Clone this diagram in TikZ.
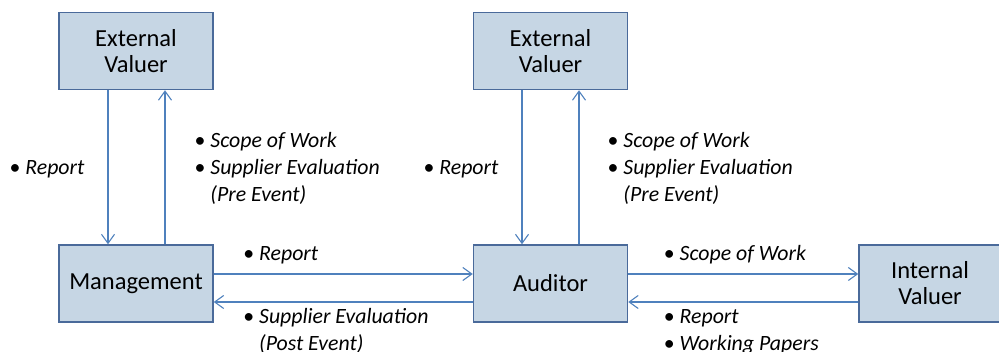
\documentclass[tikz,border=0pt]{standalone}
\usepackage{fontspec}
\setmainfont{Carlito}
\usetikzlibrary{arrows.meta,positioning}
\definecolor{vbfill}{HTML}{C6D6E4}
\definecolor{vbedge}{HTML}{4A6A9A}
\definecolor{vbline}{HTML}{4F81BD}
\newcommand{\pts}[1]{\begin{tabular}{@{}l@{\hspace{5pt}}l@{}}#1\end{tabular}}

\begin{document}
\begin{tikzpicture}[
    box/.style={draw=vbedge, fill=vbfill, line width=1.5pt, minimum width=154pt,
      minimum height=77pt, align=center, font=\fontsize{24.5}{26}\selectfont},
    flow/.style={draw=vbline, line width=1.1pt, -{Straight Barb[length=9pt, width=13pt]}},
    lbl/.style={inner sep=0pt, font=\fontsize{21.8}{27}\selectfont}]
  \useasboundingbox (0,0) rectangle (999pt,-352pt);

  % Boxes
  \node[box] (mgmt) at (136pt,-283.5pt) {Management};
  \node[box, above=154pt of mgmt] (extA) {External\\Valuer};
  \node[box, right=259pt of mgmt] (aud) {Auditor};
  \node[box, above=154pt of aud] (extB) {External\\Valuer};
  \node[box, minimum width=142pt, right=230pt of aud] (intv) {Internal\\Valuer};

  % Management and its valuer
  \draw[flow] ([xshift=-28pt]extA.south) -- node[lbl, left=23pt, yshift=-2pt] {\pts{•&\textit{Report}}} ([xshift=-28pt]mgmt.north);
  \draw[flow] ([xshift=29pt]mgmt.north) -- node[lbl, right=29pt, yshift=-2pt] {\pts{•&\textit{Scope of Work}\\ •&\textit{Supplier Evaluation}\\ &\textit{(Pre Event)}}} ([xshift=29pt]extA.south);

  % Auditor and its valuer
  \draw[flow] ([xshift=-28.5pt]extB.south) -- node[lbl, left=23pt, yshift=-2pt] {\pts{•&\textit{Report}}} ([xshift=-28.5pt]aud.north);
  \draw[flow] ([xshift=28.5pt]aud.north) -- node[lbl, right=28pt, yshift=-2pt] {\pts{•&\textit{Scope of Work}\\ •&\textit{Supplier Evaluation}\\ &\textit{(Pre Event)}}} ([xshift=28.5pt]extB.south);

  % Management <-> Auditor
  \draw[flow] ([yshift=9.5pt]mgmt.east) -- node[lbl, pos=0, anchor=west, xshift=29pt, yshift=19pt] {\pts{•&\textit{Report}}} ([yshift=9.5pt]aud.west);
  \draw[flow] ([yshift=-18.5pt]aud.west) -- node[lbl, pos=1, anchor=west, xshift=29pt, yshift=-30pt] {\pts{•&\textit{Supplier Evaluation}\\ &\textit{(Post Event)}}} ([yshift=-18.5pt]mgmt.east);

  % Auditor <-> Internal Valuer
  \draw[flow] ([yshift=9.5pt]aud.east) -- node[lbl, pos=0, anchor=west, xshift=35pt, yshift=19pt] {\pts{•&\textit{Scope of Work}}} ([yshift=9.5pt]intv.west);
  \draw[flow] ([yshift=-18.5pt]intv.west) -- node[lbl, pos=1, anchor=west, xshift=35pt, yshift=-30pt] {\pts{•&\textit{Report}\\ •&\textit{Working Papers}}} ([yshift=-18.5pt]aud.east);
\end{tikzpicture}
\end{document}
